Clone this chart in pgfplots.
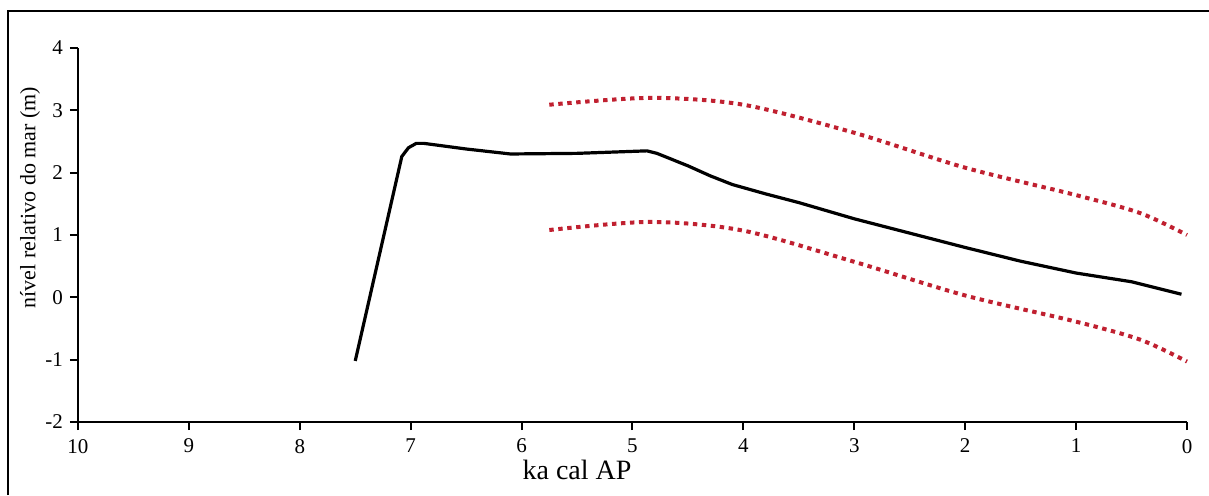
\documentclass[border=0pt]{standalone}
\usepackage{fontspec}
\setmainfont{Liberation Serif}
\usepackage{pgfplots}
\pgfplotsset{compat=1.18}
\definecolor{dotred}{RGB}{192,32,48}
\begin{document}
\begin{tikzpicture}
\useasboundingbox (-39pt,-36.5pt) rectangle (565.5pt,211pt);
\begin{axis}[
  scale only axis, width=554.5pt, height=187pt,
  xmin=0, xmax=10, ymin=-2, ymax=4,
  x dir=reverse,
  axis lines*=left, axis line style={line width=1pt},
  tick align=outside, major tick length=4pt,
  tick style={line width=1pt, black},
  xtick={0,1,...,10}, xticklabels={0,1,2,3,4,5,6,7,8,9,10},
  ytick={-2,-1,...,4}, yticklabels={-2,-1,0,1,2,3,4},
  ticklabel style={font=\fontsize{10.5}{12}\selectfont},
  xticklabel style={yshift=-1pt},
  xlabel={ka cal AP}, ylabel={nível relativo do mar (m)},
  xlabel style={at={(axis description cs:0.45,0)}, anchor=center, yshift=-24pt, font=\fontsize{14}{16}\selectfont},
  ylabel style={at={(axis description cs:0,0.6)}, anchor=center, yshift=24pt, font=\fontsize{11}{13}\selectfont},
  clip=false,
]
\addplot[black, line width=1.6pt, line join=round] coordinates {
 (7.50,-1.02) (7.08,2.26) (7.02,2.40) (6.95,2.47) (6.88,2.47) (6.5,2.38) (6.10,2.30)
 (5.5,2.31) (4.87,2.35) (4.78,2.31) (4.5,2.11) (4.3,1.95) (4.1,1.81) (3.8,1.66) (3.5,1.52)
 (3.0,1.26) (2.5,1.03) (2.0,0.80) (1.5,0.58) (1.0,0.39) (0.5,0.25) (0.05,0.05)};
\addplot[dotred, line width=2pt, dash pattern=on 2.2pt off 2.3pt, smooth] coordinates {
 (5.75,3.09) (4.84,3.20) (4.0,3.09) (3.0,2.64) (2.0,2.08) (1.0,1.64) (0.42,1.35) (0.0,1.0)};
\addplot[dotred, line width=2pt, dash pattern=on 2.2pt off 2.3pt, smooth] coordinates {
 (5.75,1.08) (4.84,1.21) (4.0,1.07) (3.0,0.57) (2.0,0.03) (1.0,-0.39) (0.42,-0.68) (0.0,-1.03)};
\end{axis}
\draw[line width=1pt] (-35pt,-36.5pt) -- (-35pt,205.5pt) -- (565.5pt,205.5pt);
\end{tikzpicture}
\end{document}
